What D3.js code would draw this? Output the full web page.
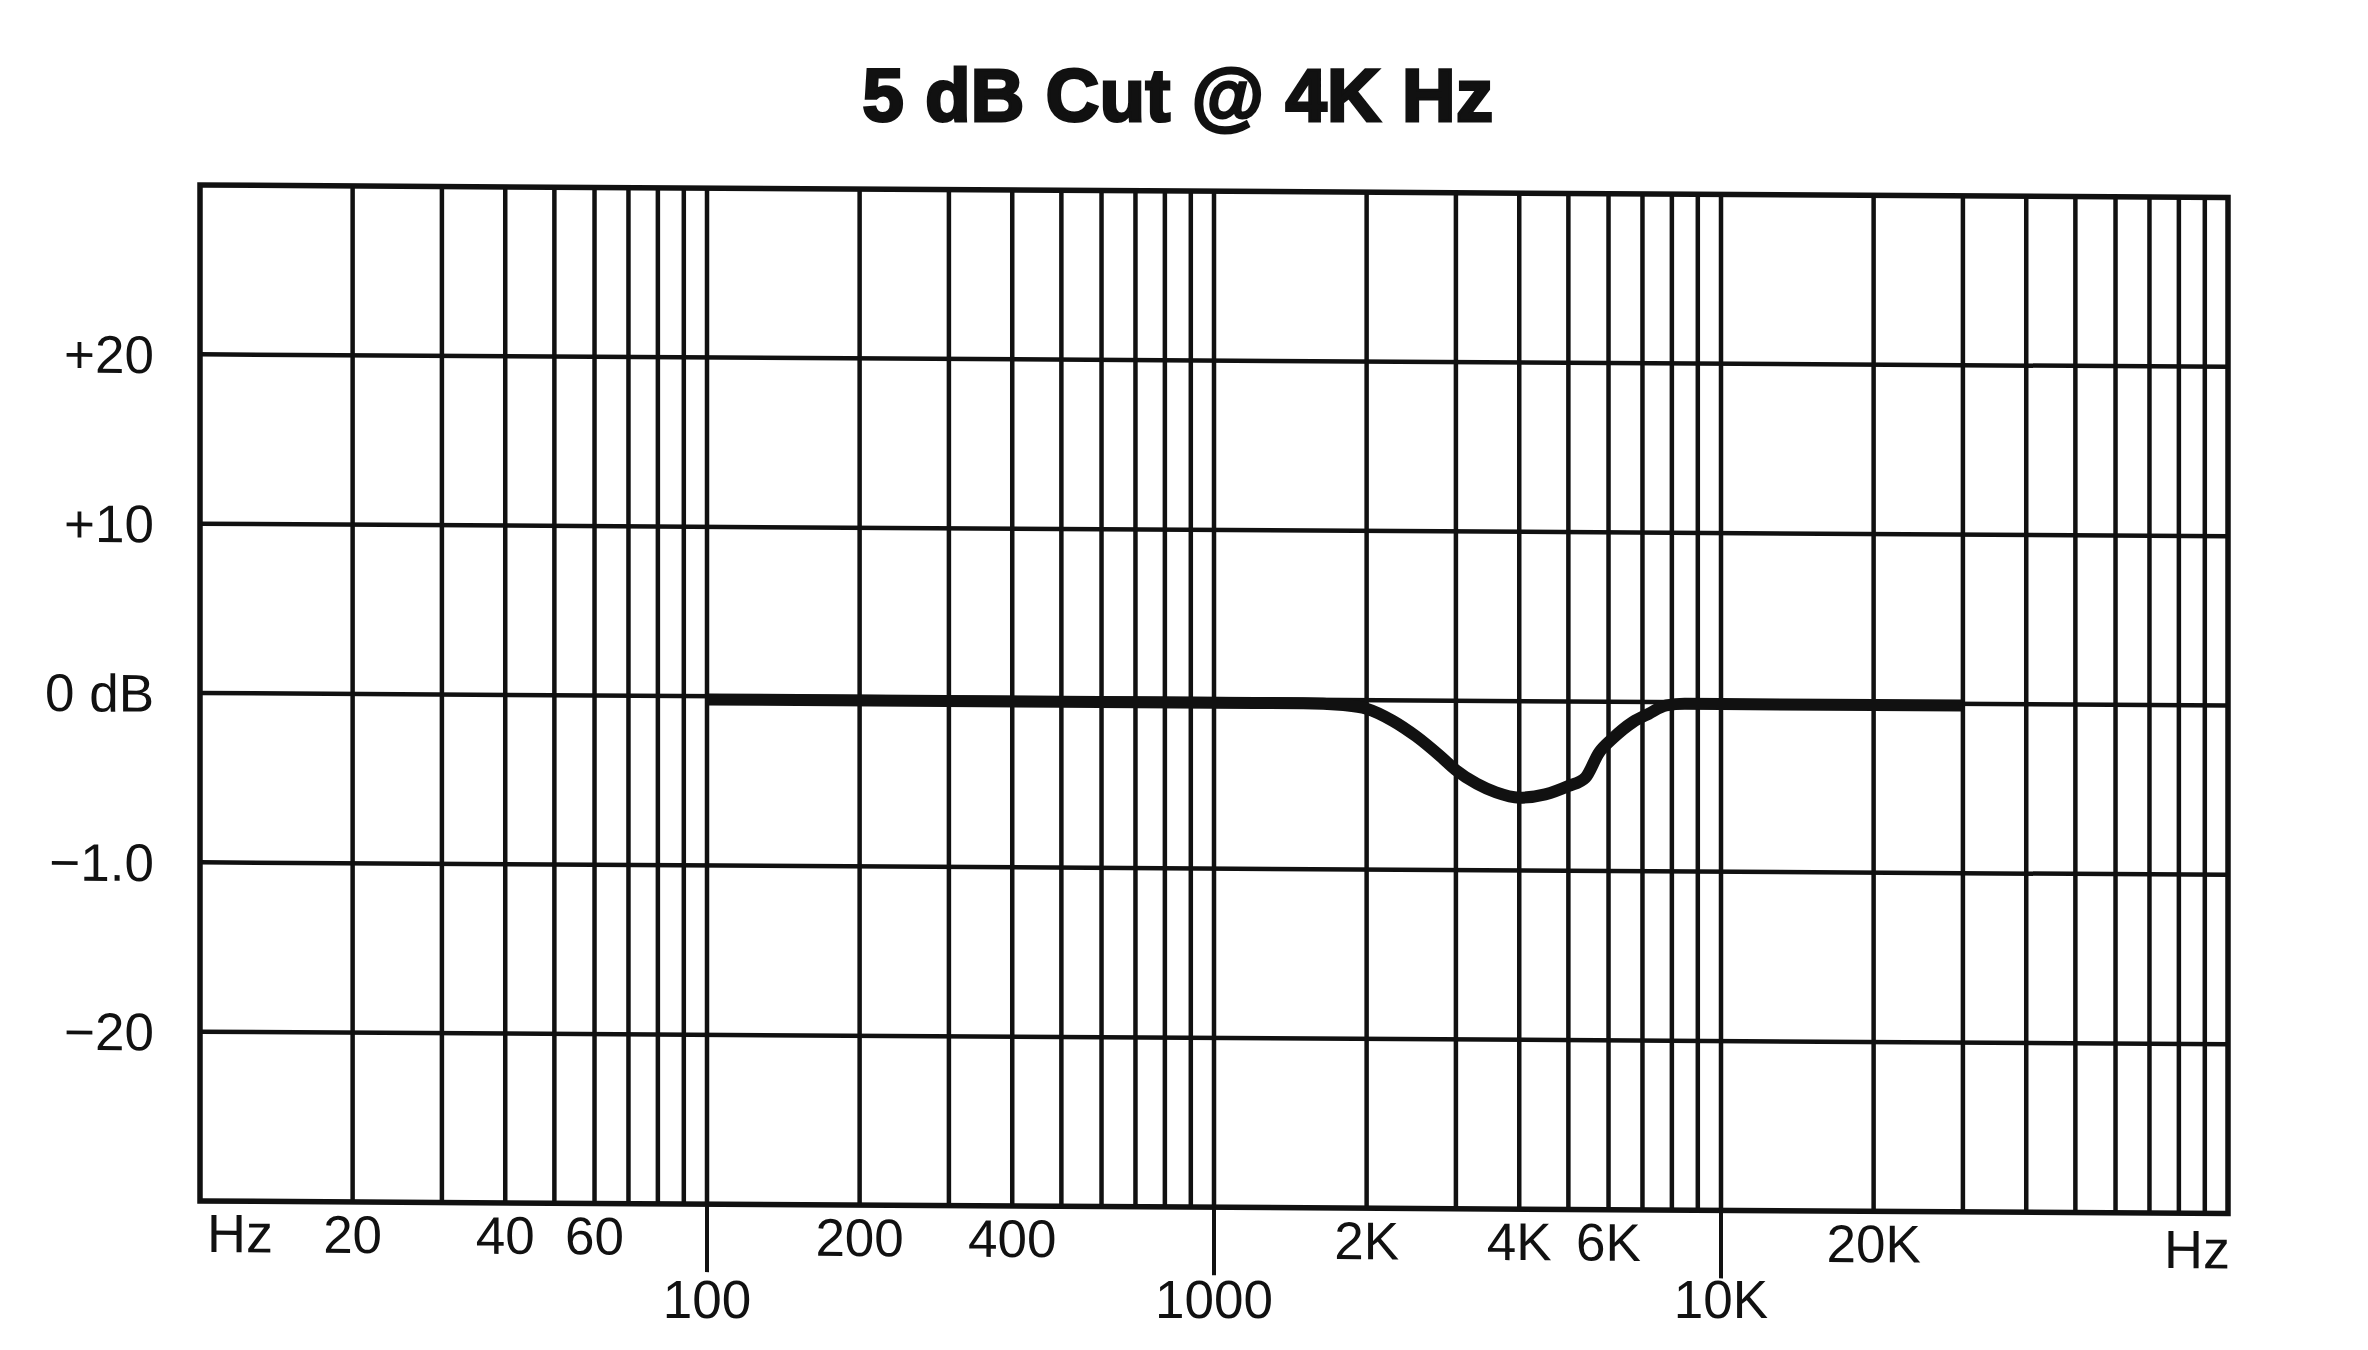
<!DOCTYPE html>
<html>
<head>
<meta charset="utf-8">
<script src="https://cdn.jsdelivr.net/npm/d3@7"></script>
<style>
  html, body { margin: 0; padding: 0; background: #fff; }
  svg { display: block; }
  text { font-family: "Liberation Sans", Arial, sans-serif; fill: #111; }
</style>
</head>
<body>
<svg id="chart" width="2368" height="1350"></svg>
<script>
// ---- data ----
const titleText = "5 dB Cut @ 4K Hz";
const curveFreqs = [100, 500, 1000, 1500, 1800, 2000, 2250, 2500, 2800, 3000, 3300, 3600, 4000, 4500, 5000, 5400, 5750, 6100, 6700, 7200, 7800, 8500, 10000, 20000, 30000];
const curveGain  = [-0.2, -0.2, -0.2, -0.2, -0.3, -0.5, -1.2, -2.1, -3.3, -4.1, -4.9, -5.4, -5.7, -5.5, -5.0, -4.5, -3.0, -2.2, -1.2, -0.7, -0.2, -0.1, -0.1, -0.1, -0.1];
const yTickValues = [20, 10, 0, -10, -20];
const yTickLabels = ["+20", "+10", "0 dB", "\u22121.0", "\u221220"];
const xRow1Freqs  = [20, 40, 60, 200, 400, 2000, 4000, 6000, 20000];
const xRow1Labels = ["20", "40", "60", "200", "400", "2K", "4K", "6K", "20K"];
const xRow2Freqs  = [100, 1000, 10000];
const xRow2Labels = ["100", "1000", "10K"];
const xDomain = [10, 100000];
const yDomain = [-30, 30];

// ---- layout ----
const L = 200, R = 2228, T = 185, B = 1201;
const skewDeg = 0.353;

const svg = d3.select("#chart");

svg.append("text")
  .attr("x", 1178).attr("y", 121)
  .attr("text-anchor", "middle")
  .style("font-size", "74px").style("font-weight", "bold")
  .style("letter-spacing", "0.5px")
  .attr("stroke", "#111").attr("stroke-width", 3)
  .text(titleText);

const g = svg.append("g")
  .attr("transform", `translate(${L},0) skewY(${skewDeg}) translate(${-L},0)`);

const x = d3.scaleLog().domain(xDomain).range([L, R]);
const y = d3.scaleLinear().domain(yDomain).range([B, T]);

// vertical grid via log ticks (1..9 per decade)
const xGrid = x.ticks().filter(f => f > xDomain[0] && f < xDomain[1]);
g.append("g").selectAll("line").data(xGrid).join("line")
  .attr("x1", d => x(d)).attr("x2", d => x(d))
  .attr("y1", T).attr("y2", B)
  .attr("stroke", "#111").attr("stroke-width", 4.5);

// horizontal grid
g.append("g").selectAll("line").data(yTickValues).join("line")
  .attr("x1", L).attr("x2", R)
  .attr("y1", d => y(d)).attr("y2", d => y(d))
  .attr("stroke", "#111").attr("stroke-width", 4.5);

// border
g.append("rect")
  .attr("x", L).attr("y", T).attr("width", R - L).attr("height", B - T)
  .attr("fill", "none").attr("stroke", "#111").attr("stroke-width", 5.5);

// decade ticks below axis
g.append("g").selectAll("line").data(xRow2Freqs).join("line")
  .attr("x1", d => x(d)).attr("x2", d => x(d))
  .attr("y1", B).attr("y2", B + 68)
  .attr("stroke", "#111").attr("stroke-width", 4);

// y labels
g.append("g").selectAll("text").data(yTickValues).join("text")
  .attr("x", 154).attr("y", d => y(d))
  .attr("dy", "0.36em")
  .attr("text-anchor", "end")
  .style("font-size", "53px")
  .text((d, i) => yTickLabels[i]);

// x labels row 1
g.append("g").selectAll("text").data(xRow1Freqs).join("text")
  .attr("x", d => x(d)).attr("y", 1252)
  .attr("text-anchor", "middle")
  .style("font-size", "53px")
  .text((d, i) => xRow1Labels[i]);

// x labels row 2 (not skewed in the reference)
svg.append("g").selectAll("text").data(xRow2Freqs).join("text")
  .attr("x", d => x(d)).attr("y", 1318)
  .attr("text-anchor", "middle")
  .style("font-size", "53px")
  .text((d, i) => xRow2Labels[i]);

// Hz labels
g.append("text").attr("x", 207).attr("y", 1252)
  .attr("text-anchor", "start").style("font-size", "54px").text("Hz");
g.append("text").attr("x", 2230).attr("y", 1256)
  .attr("text-anchor", "end").style("font-size", "54px").text("Hz");

// response curve
const pts = curveFreqs.map((f, i) => [f, curveGain[i]]);
const line = d3.line()
  .x(d => x(d[0])).y(d => y(d[1]))
  .curve(d3.curveMonotoneX);
g.append("path")
  .attr("d", line(pts))
  .attr("fill", "none").attr("stroke", "#111")
  .attr("stroke-width", 12).attr("stroke-linecap", "butt").attr("stroke-linejoin", "round");
</script>
</body>
</html>
